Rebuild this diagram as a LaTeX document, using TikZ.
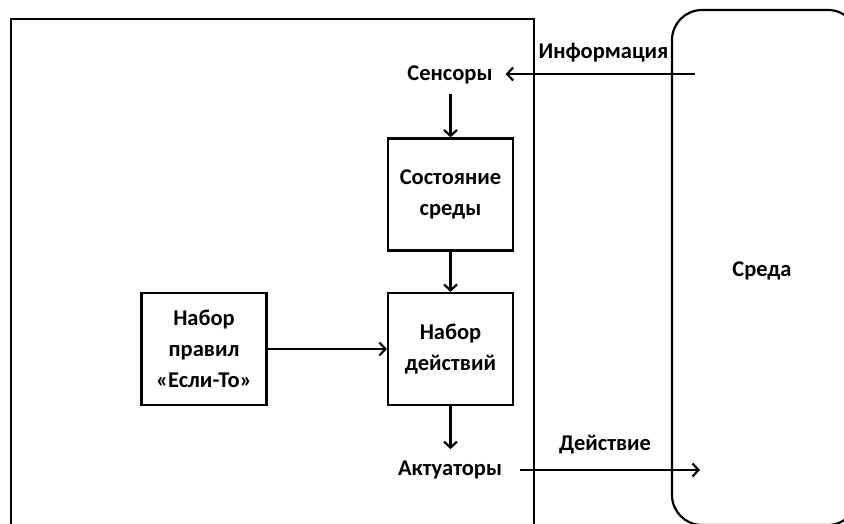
\documentclass[tikz,border=0pt]{standalone}
\usepackage{fontspec}
\setmainfont{Carlito}
\usetikzlibrary{arrows.meta}
\begin{document}
\begin{tikzpicture}[x=1pt,y=-1pt,
  line width=2.2pt,
  lbl/.style={font=\bfseries\fontsize{22.5}{30}\selectfont, inner sep=0pt, align=center},
  blk/.style={draw, line width=2.2pt, minimum width=125pt, minimum height=112pt, inner sep=0pt, align=center, font=\bfseries\fontsize{22.5}{31}\selectfont},
  arr/.style={-{Straight Barb[length=6pt,width=13pt,line width=2.2pt]}}
]
\useasboundingbox (0,0) rectangle (844,524);
\begin{scope}
\clip (0,0) rectangle (844,524);
% agent frame
\draw (11,540) -- (11,19) -- (534,19) -- (534,540);
% environment
\draw[rounded corners=30pt] (672,10) rectangle (858,525);
\end{scope}

\node[lbl] (sens) at (450,75) {Сенсоры};
\node[lbl] (info) at (603.5,53) {Информация};
\node[blk] (state) at (450.5,194.5) {Состояние\\среды};
\node[blk] (act) at (450.5,349) {Набор\\действий};
\node[blk] (rules) at (204,349) {Набор\\правил\\«Если-То»};
\node[lbl] (actu) at (450,470) {Актуаторы};
\node[lbl] (deyst) at (605,445) {Действие};
\node[lbl] (env) at (762,271) {Среда};

\coordinate (infoS) at (695,74);
\coordinate (actE) at (700,470);

\draw[arr] (infoS) -- ([xshift=12pt]sens.east |- infoS);
\draw[arr] ([yshift=-9pt]sens.south -| state.north) -- (state.north);
\draw[arr] (state.south) -- (act.north);
\draw[arr] (rules.east) -- (act.west);
\draw[arr] (act.south) -- ++(0,43);
\draw[arr] ([xshift=17pt]actu.east) -- (actE);
\end{tikzpicture}
\end{document}
